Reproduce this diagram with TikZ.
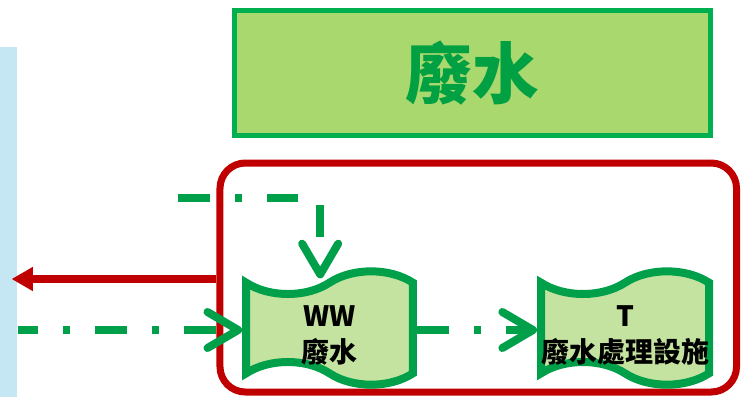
\documentclass[tikz,border=0pt]{standalone}
\usepackage{fontspec}
\setmainfont{Noto Sans CJK TC}
\usetikzlibrary{shapes.symbols,arrows.meta}

\definecolor{wwline}{HTML}{00A04A}
\definecolor{wwfill}{HTML}{C5E3A0}
\definecolor{topfill}{HTML}{A9D86E}
\definecolor{topline}{HTML}{00B050}
\definecolor{toptext}{HTML}{00A043}
\definecolor{plantred}{HTML}{C00000}
\definecolor{barblue}{HTML}{C5E7F3}

\tikzset{
    tapebox/.style={tape, draw=wwline, fill=wwfill, line width=6pt,
        minimum width=125pt, minimum height=76pt,
        tape bend top=in and out, tape bend bottom=out and in, tape bend height=17pt,
        inner sep=0pt, align=center, text height=51pt, text depth=0pt,
        font=\bfseries\fontsize{21}{26.5}\selectfont},
    flowline/.style={draw=wwline, line width=6pt,
        dash pattern=on 24pt off 18.75pt on 5.25pt off 18.75pt,
        -{Straight Barb[length=23pt,width=27pt,round]}},
}

\begin{document}
\begin{tikzpicture}[x=0.75pt,y=-0.75pt]
        \useasboundingbox (0,0) rectangle (741,397);

        \node[fill=barblue, inner sep=0pt, minimum width=12.75pt, minimum height=262.5pt, anchor=south west] (bar) at (0,397) {};

        \node[draw=topline, fill=topfill, line width=3.75pt, minimum width=357pt, minimum height=93.75pt,
            text=toptext, font=\bfseries\fontsize{50}{52}\selectfont] (title) at (472.5,73) {廢水};

        \node[draw=plantred, line width=5.25pt, rounded corners=19pt, minimum width=387.4pt, minimum height=171.75pt] (plant) at (478.25,277.5) {};

        \node[tapebox] (ww) at (329.5,328) {WW\\廢水};
        \node[tapebox] (t) at (625,328) {T\\廢水處理設施};

        \coordinate (feed) at (178,198);

        \draw[plantred, line width=6pt, -{Triangle[length=16pt,width=17pt]}, shorten >=-4.5pt] (plant.west |- 0,279) -- (bar.east |- 0,279);
        \draw[flowline, dash phase=9pt] (bar.east |- 0,330) -- (ww.west |- 0,330);
        \draw[flowline, dash pattern=on 24pt off 18.75pt on 5.25pt off 18.75pt on 23.25pt off 21.75pt on 24pt off 60pt]
            (feed) -| ([xshift=-7pt]ww.north);
        \draw[flowline] (ww.east |- 0,330) -- (t.west |- 0,330);
    \end{tikzpicture}
\end{document}
